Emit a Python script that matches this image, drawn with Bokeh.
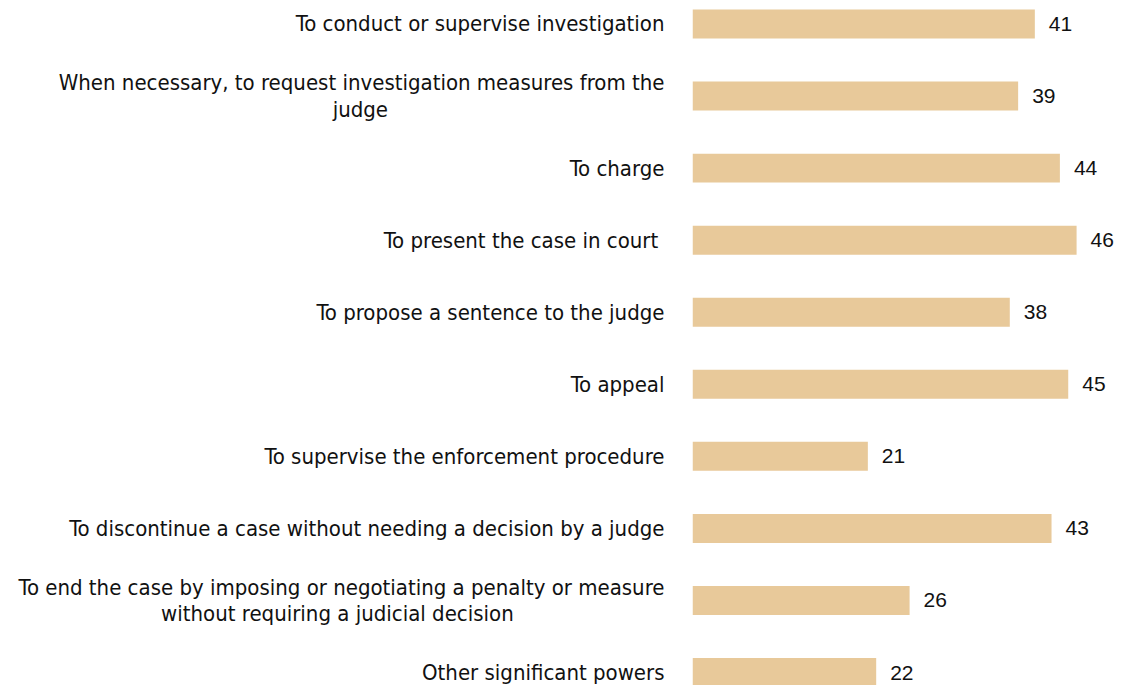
from bokeh.plotting import figure
from bokeh.models import Range1d, ColumnDataSource, FixedTicker
from bokeh.core.properties import value
from bokeh.embed import file_html
from bokeh.resources import INLINE

NB = "\u00a0"
categories = [
    "To conduct or supervise investigation",
    "When necessary, to request investigation measures from the\njudge" + NB * 44,
    "To charge",
    "To present the case in  court",
    "To propose a sentence to the judge",
    "To appeal",
    "To supervise the enforcement procedure",
    "To discontinue a case without needing a decision by a judge",
    "To end the case by imposing or negotiating a penalty or measure\nwithout requiring a judicial decision" + NB * 24,
    "Other significant powers",
]
values = [41, 39, 44, 46, 38, 45, 21, 43, 26, 22]

pos = list(range(len(categories)))
src = ColumnDataSource(dict(y=pos, v=values, t=[str(v) for v in values]))

p = figure(width=1117, height=685, output_backend="svg", toolbar_location=None,
           x_range=Range1d(0, 50.9), y_range=Range1d(9.18, -0.326),
           min_border_left=692, min_border_right=0, min_border_top=0, min_border_bottom=0)
p.outline_line_color = None
p.grid.visible = False
p.xaxis.visible = False

p.hbar(y="y", right="v", left=0, height=0.402, source=src, color="#E8C99A", line_color=None)
p.text(x="v", y="y", text="t", source=src, x_offset=14, text_align="left",
       text_baseline="middle", text_font=value("Liberation Sans"), text_font_size="21px",
       text_color="#111111")

ax = p.yaxis[0]
ax.ticker = FixedTicker(ticks=pos)
ax.major_label_overrides = {i: c for i, c in enumerate(categories)}
ax.axis_line_color = None
ax.major_tick_line_color = None
ax.minor_tick_line_color = None
ax.major_label_standoff = 22
ax.major_label_text_font = "DejaVu Sans Condensed"
ax.major_label_text_font_size = "22px"
ax.major_label_text_line_height = 1.05
ax.major_label_text_color = "#111111"

open("out.html", "w").write(file_html(p, INLINE))
